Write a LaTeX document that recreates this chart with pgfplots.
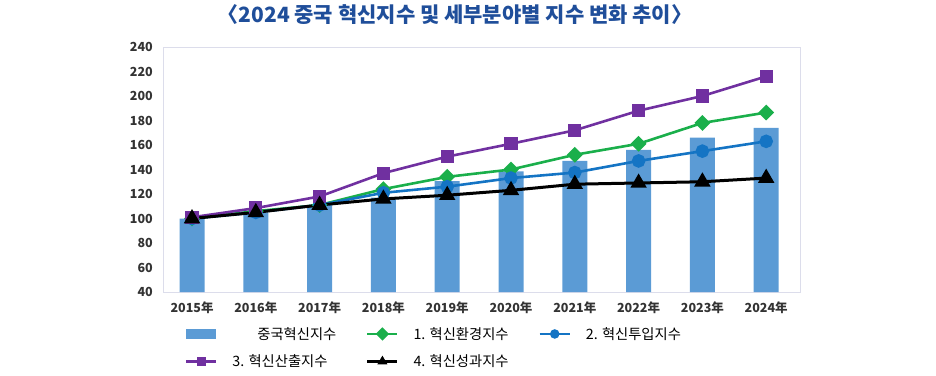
\documentclass[border=0pt]{standalone}
\usepackage{pgfplots}
\pgfplotsset{compat=1.18}
\usepackage{fontspec}
\setmainfont{Noto Sans CJK KR}
\definecolor{barblue}{HTML}{5B9BD5}
\definecolor{lgreen}{HTML}{1AAF4B}
\definecolor{lblue}{HTML}{1474C4}
\definecolor{lpurple}{HTML}{7030A0}
\definecolor{titleblue}{HTML}{1F4E9A}
\definecolor{framec}{HTML}{DCDDEB}
\definecolor{ticktext}{HTML}{333333}
\begin{document}
\begin{tikzpicture}[x=1pt,y=1pt]
\begin{axis}[
  anchor=south west, at={(0,0)}, scale only axis,
  width=637pt, height=245pt,
  xmin=-0.455, xmax=9.53, ymin=40, ymax=240,
  xtick={0,...,9},
  xticklabels={2015年,2016年,2017年,2018年,2019年,2020年,2021年,2022年,2023年,2024年},
  ytick={40,60,...,240},
  /pgf/number format/assume math mode=true,
  major tick length=0pt,
  tick style={draw=none},
  axis line style={draw=framec, line width=0.8pt},
  ticklabel style={font=\bfseries\fontsize{12.5}{12.5}\selectfont, text=ticktext, inner sep=0pt},
  yticklabel shift=10pt,
  xticklabel shift=10pt,
  legend style={at={(axis description cs:0.0345,-0.143)}, anchor=north west,
    draw=none, fill=none, inner sep=0pt, font=\fontsize{14.3}{14.3}\selectfont,
    nodes={inner sep=0pt, anchor=west},
    /tikz/every odd column/.append style={column sep=15pt},
    /tikz/every even column/.append style={column sep=30pt},
    row sep=14pt},
  legend columns=3,
  legend cell align=left,
]
\addplot[ybar, bar width=25pt, bar shift=0pt, fill=barblue, draw=none,
  legend image code/.code={\fill[barblue] (0pt,-5pt) rectangle (30pt,5pt);}]
  coordinates {(0,100) (1,104.5) (2,111) (3,117) (4,130.5) (5,138.5) (6,147) (7,156) (8,166) (9,174)};
\addlegendentry{\hspace{25pt}중국혁신지수}
\pgfplotsset{every axis plot/.append style={
  legend image code/.code={\draw[##1, mark repeat=2, mark phase=2, mark size=3.6pt, line width=2.2pt] plot coordinates {(0pt,0pt)(15pt,0pt)(30pt,0pt)};}}}
\addplot[lgreen, line width=2.6pt, mark=square*, mark size=4.3pt, mark options={rotate=45, solid}]
  coordinates {(0,100) (1,106) (2,111) (3,124) (4,134) (5,140) (6,152) (7,161) (8,178) (9,186.5)};
\addlegendentry{1. 혁신환경지수}
\addplot[lblue, line width=2.6pt, mark=*, mark size=5.5pt]
  coordinates {(0,100) (1,105) (2,111) (3,121) (4,126) (5,133) (6,137.5) (7,147) (8,155) (9,163)};
\addlegendentry{2. 혁신투입지수}
\addplot[lpurple, line width=2.6pt, mark=square*, mark size=5.3pt]
  coordinates {(0,101) (1,108.5) (2,118) (3,137) (4,150.5) (5,161) (6,172) (7,188) (8,200) (9,216)};
\addlegendentry{3. 혁신산출지수}
\addplot[black, line width=3pt, mark=triangle*, mark size=6.5pt]
  coordinates {(0,100) (1,105) (2,111) (3,116) (4,119) (5,123) (6,128) (7,129) (8,130) (9,133)};
\addlegendentry{4. 혁신성과지수}
\end{axis}
\node[font=\bfseries\fontsize{21}{21}\selectfont, text=titleblue] at (292,277) {〈2024 중국 혁신지수 및 세부분야별 지수 변화 추이〉};
\pgfresetboundingbox
\useasboundingbox (-163,-83) rectangle (773,292);
\end{tikzpicture}
\end{document}
